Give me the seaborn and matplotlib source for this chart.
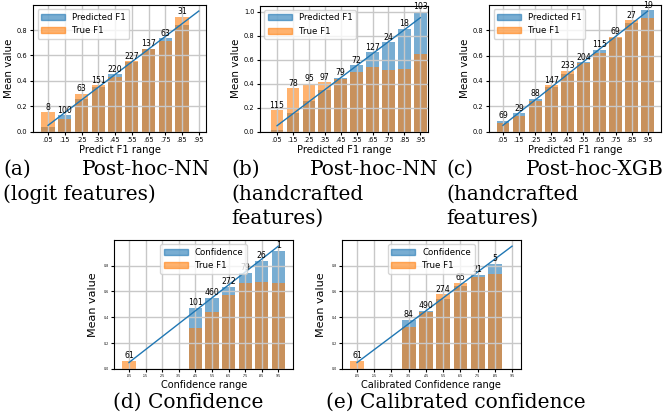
import numpy as np
import matplotlib
matplotlib.use("Agg")
import matplotlib.pyplot as plt
import seaborn as sns
from matplotlib.patches import Patch

nan = np.nan

# bins
bin_labels = ['.05', '.15', '.25', '.35', '.45', '.55', '.65', '.75', '.85', '.95']
bin_centers = [0.05, 0.15, 0.25, 0.35, 0.45, 0.55, 0.65, 0.75, 0.85, 0.95]

# (a) Post-hoc-NN, logit features
a_pred = [0.034, 0.131, 0.257, 0.349, 0.454, 0.548, 0.652, 0.737, 0.84, nan]
a_true = [0.155, 0.10, 0.30, 0.367, 0.428, 0.556, 0.648, 0.713, 0.905, nan]
a_count = [8, 100, 63, 151, 220, 227, 137, 63, 31, None]

# (b) Post-hoc-NN, handcrafted features
b_pred = [0.014, 0.156, 0.256, 0.347, 0.45, 0.553, 0.664, 0.747, 0.856, 1.0]
b_true = [0.18, 0.364, 0.40, 0.414, 0.442, 0.497, 0.536, 0.514, 0.52, 0.647]
b_count = [115, 78, 95, 97, 79, 72, 127, 24, 18, 103]

# (c) Post-hoc-XGB, handcrafted features
c_pred = [0.087, 0.145, 0.259, 0.356, 0.457, 0.547, 0.647, 0.742, 0.853, 0.956]
c_true = [0.071, 0.124, 0.243, 0.367, 0.48, 0.541, 0.62, 0.747, 0.877, 0.898]
c_count = [69, 29, 88, 147, 233, 204, 115, 69, 27, 19]

# (d) Confidence
d_conf = [nan, nan, nan, nan, 0.472, 0.55, 0.635, 0.743, 0.836, 0.914]
d_true = [0.065, nan, nan, nan, 0.315, 0.439, 0.573, 0.666, 0.671, 0.666]
d_count = [61, None, None, None, 101, 460, 272, 79, 26, 1]

# (e) Calibrated confidence
e_conf = [nan, nan, nan, 0.379, 0.449, 0.542, 0.643, 0.728, 0.813, nan]
e_true = [0.062, nan, nan, 0.328, 0.439, 0.578, 0.666, 0.715, 0.735, nan]
e_count = [61, None, None, 84, 490, 274, 65, 21, 5, None]

W, H = 667, 420
fig = plt.figure(figsize=(W / 100, H / 100), dpi=100)


def px_axes(x0, x1, y0, y1):
    return fig.add_axes([x0 / W, 1 - y1 / H, (x1 - x0) / W, (y1 - y0) / H])


def panel(ax, blue, orange, counts, blue_name, xlabel, xlim, ylim, small=False, loc='upper left'):
    sns.barplot(x=bin_labels, y=blue, order=bin_labels, color='tab:blue', alpha=0.6,
                saturation=1, errorbar=None, width=0.8, ax=ax)
    sns.barplot(x=bin_labels, y=orange, order=bin_labels, color='tab:orange', alpha=0.6,
                saturation=1, errorbar=None, width=0.8, ax=ax)
    sns.lineplot(x=np.arange(len(bin_centers)), y=bin_centers, color='tab:blue', lw=1, ax=ax)
    for i, n in enumerate(counts):
        if n is None:
            continue
        top = np.nanmax([blue[i], orange[i]])
        ax.text(i, top + 0.004, str(n), ha='center', va='bottom', fontsize=5.6)
    ax.set_xlim(*xlim)
    ax.set_ylim(*ylim)
    ax.grid(True, color='#c8c8c8', lw=1.0)
    ax.set_ylabel('Mean value', fontsize=8 if small else 7.4, labelpad=2 if not small else 4)
    ax.set_xlabel(xlabel, fontsize=7 if small else 7.2, labelpad=1.5)
    ax.tick_params(labelsize=2.3 if small else 4.8, length=2 if small else 2.5, pad=1.5)
    ax.legend(handles=[Patch(color='tab:blue', alpha=0.6, label=blue_name),
                       Patch(color='tab:orange', alpha=0.6, label='True F1')],
              loc=loc, fontsize=6.2, handlelength=2.8)


ax_a = px_axes(33.3, 206, 5, 131.7)
panel(ax_a, a_pred, a_true, a_count, 'Predicted F1', 'Predict F1 range', (-0.88, 9.43), (0, 0.9975))
ax_b = px_axes(260, 428.3, 5.7, 131.7)
panel(ax_b, b_pred, b_true, b_count, 'Predicted F1', 'Predicted F1 range', (-1.07, 9.5), (0, 1.05))
ax_c = px_axes(489.3, 660.7, 5, 131.7)
panel(ax_c, c_pred, c_true, c_count, 'Predicted F1', 'Predicted F1 range', (-0.85, 9.81), (0, 0.998))
ax_d = px_axes(114, 293.3, 240, 369)
panel(ax_d, d_conf, d_true, d_count, 'Confidence', 'Confidence range', (-0.9, 9.9), (0, 0.9975),
      small=True, loc='upper center')
ax_e = px_axes(341.7, 520.7, 240, 369)
panel(ax_e, e_conf, e_true, e_count, 'Confidence', 'Calibrated Confidence range', (-0.89, 9.5),
      (0, 0.9975), small=True, loc='upper center')

# captions
cap = dict(family='DejaVu Serif', fontsize=14.5, va='baseline')


def ftext(x, y, s, **kw):
    fig.text(x / W, 1 - y / H, s, **cap, **kw)


ftext(3, 175, '(a)')
ftext(210, 175, 'Post-hoc-NN', ha='right')
ftext(3, 200, '(logit features)')
ftext(231, 175, '(b)')
ftext(438, 175, 'Post-hoc-NN', ha='right')
ftext(231, 200, '(handcrafted')
ftext(231, 224, 'features)')
ftext(446, 175, '(c)')
ftext(664, 175, 'Post-hoc-XGB', ha='right')
ftext(446, 200, '(handcrafted')
ftext(446, 224, 'features)')
ftext(188, 408, '(d) Confidence', ha='center')
ftext(456, 408, '(e) Calibrated confidence', ha='center')

fig.savefig('out.png', dpi=100)
